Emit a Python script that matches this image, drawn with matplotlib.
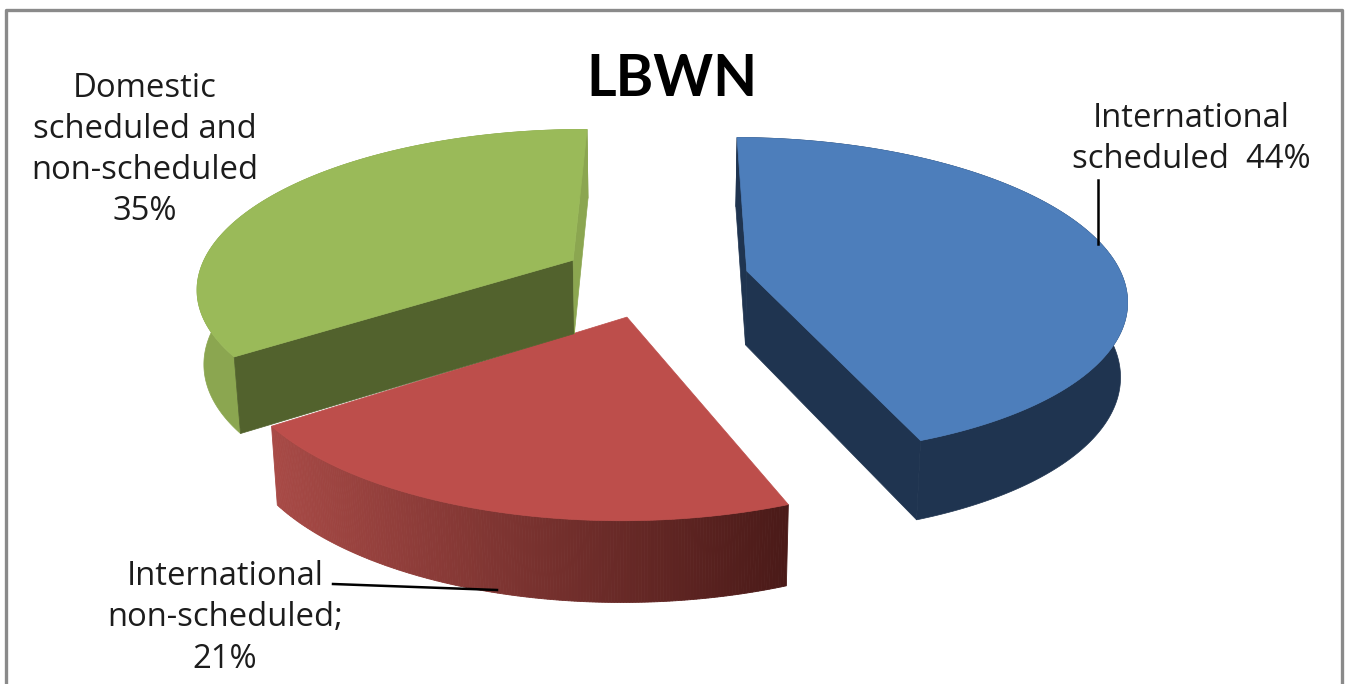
import matplotlib
matplotlib.use('Agg')
import matplotlib.pyplot as plt
import numpy as np

title = 'LBWN'
shares = [44, 21, 35]
labels = ['International\nscheduled  44%', 'International\nnon-scheduled;\n21%',
          'Domestic\nscheduled and\nnon-scheduled\n35%']
top_colors = ['#4d7ebb', '#bd4e4b', '#9aba59']
wall_colors = ['#1f3450', None, '#8ba650']
# colours of the two cut faces of each slice, in clockwise order
first_cut = ['#1f3450', None, '#52622d']
last_cut = ['#1f3450', None, '#8ba650']

# projection of the pie plane onto the picture, in pixels
CX, CY = 655, 278
R, RY = 376, 157
PERSP = 0.16
DEPTH = 74
EXPLODE = 0.25
START = 89.5


def project(u, v):
    w = 1 + PERSP * v
    return CX + R * u / w, CY - RY * v / w


def lower(x, y, v):
    w = 1 + PERSP * v
    return CX + (x - CX) * 0.985, y + DEPTH / w ** 0.45


def lerp_color(c1, c2, f):
    a = np.array(matplotlib.colors.to_rgb(c1))
    b = np.array(matplotlib.colors.to_rgb(c2))
    return a + (b - a) * f


fig = plt.figure(figsize=(13.5, 6.84), dpi=100)
ax = fig.add_axes([0, 0, 1, 1])
ax.set_xlim(0, 1350)
ax.set_ylim(684, 0)
ax.axis('off')

# slice angles, clockwise from the start angle
edges = START - np.cumsum([0] + shares) * 3.6

for i in [2, 0, 1]:
    t = np.radians(np.linspace(edges[i], edges[i + 1], 200))
    mid = np.radians((edges[i] + edges[i + 1]) / 2)
    u0, v0 = EXPLODE * np.cos(mid), EXPLODE * np.sin(mid)
    u = u0 + np.cos(t)
    v = v0 + np.sin(t)
    x, y = project(u, v)
    xb, yb = lower(x, y, v)
    x0, y0 = project(np.array([u0]), np.array([v0]))
    xb0, yb0 = lower(x0, y0, np.array([v0]))
    z = 2 + i

    # outer wall, the red one is shaded along the arc
    if wall_colors[i] is not None:
        ax.fill(np.r_[x, xb[::-1]], np.r_[y, yb[::-1]], color=wall_colors[i], lw=0.5, zorder=z)
    else:
        for j in range(len(x) - 1):
            f = (x[j] - x.min()) / (x.max() - x.min())
            c = lerp_color('#a84a46', '#4a1a18', f)
            ax.fill([x[j], x[j + 1], xb[j + 1], xb[j]], [y[j], y[j + 1], yb[j + 1], yb[j]],
                    color=c, lw=0.6, zorder=z)

    # cut faces, the red ones face away from the viewer
    if first_cut[i] is not None:
        ax.fill([x0[0], x[0], xb[0], xb0[0]], [y0[0], y[0], yb[0], yb0[0]],
                color=first_cut[i], lw=0.5, zorder=z + 0.2)
        ax.fill([x0[0], xb0[0], xb[-1], x[-1]], [y0[0], yb0[0], yb[-1], y[-1]],
                color=last_cut[i], lw=0.5, zorder=z + 0.2)

    # top face
    ax.fill(np.r_[x0, x], np.r_[y0, y], color=top_colors[i], lw=0.5, zorder=z + 0.4)

# leader lines
ax.plot([1098, 1098], [180, 244], color='black', lw=1.8, zorder=10)
ax.plot([333, 497], [584, 590], color='black', lw=1.8, zorder=10)

# chart frame, open at the bottom
ax.plot([6, 6, 1342, 1342], [684, 10, 10, 684], color='#8a8a8a', lw=2.4, zorder=11)

ax.text(672, 80, title, fontsize=41, fontweight='bold', family='Lato',
        ha='center', va='center', color='black')
ax.text(1191, 139, labels[0], fontsize=23.6, family='Open Sans', ha='center', va='center',
        color='#1c1c1c', linespacing=1.33)
ax.text(225, 618, labels[1], fontsize=23.6, family='Open Sans', ha='center', va='center',
        color='#1c1c1c', linespacing=1.33)
ax.text(145, 150, labels[2], fontsize=23.6, family='Open Sans', ha='center', va='center',
        color='#1c1c1c', linespacing=1.33)

fig.savefig('out.png', dpi=100)
